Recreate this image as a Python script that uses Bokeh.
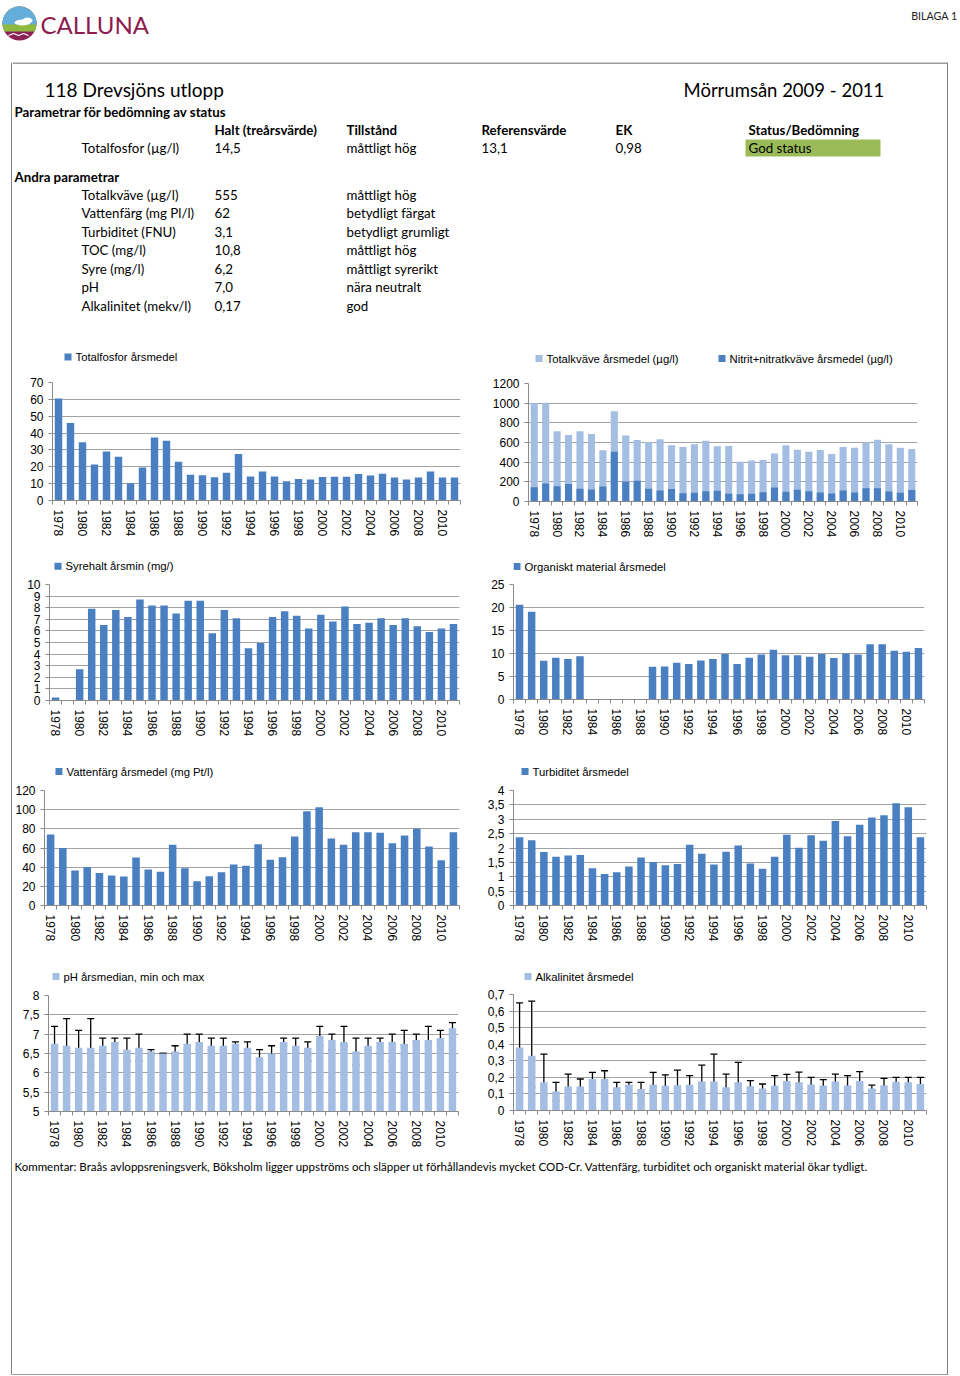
import numpy as np
from bokeh.plotting import figure
from bokeh.models import (Range1d, FixedTicker, CustomJSTickFormatter,
                          ColumnDataSource, Whisker, TeeHead, Spacer)
from bokeh.layouts import column, row
from bokeh.core.properties import value
from bokeh.embed import file_html
from bokeh.resources import INLINE

# ---------------- data ----------------
years = list(range(1978, 2012))

totalfosfor = [60.5, 46, 34.5, 21.3, 29, 26, 10.3, 19.6, 37.3, 35.5, 23, 15.3, 15, 13.8, 16.4,
               27.6, 14.2, 17.2, 14.3, 11.4, 12.7, 12.5, 14, 14.1, 14.1, 15.7, 14.8, 15.8, 13.6,
               12.5, 13.6, 17.2, 13.6, 13.6]
totalkvave = [1000, 1005, 714, 676, 714, 687, 520, 918, 670, 625, 605, 632, 571, 554, 581, 619,
              561, 564, 404, 418, 421, 489, 571, 527, 506, 523, 483, 554, 547, 602, 629, 581, 547, 534]
nitrit = [146, 184, 156, 177, 129, 122, 153, 506, 204, 211, 129, 112, 126, 85, 88, 105, 109, 78,
          75, 78, 95, 143, 99, 119, 105, 92, 82, 112, 92, 136, 136, 102, 88, 116]
syre_min = [0.25, None, 2.7, 7.9, 6.5, 7.8, 7.2, 8.7, 8.2, 8.2, 7.5, 8.6, 8.6, 5.8, 7.8, 7.1, 4.5,
            4.95, 7.2, 7.7, 7.3, 6.2, 7.4, 6.8, 8.1, 6.6, 6.7, 7.1, 6.5, 7.1, 6.4, 5.9, 6.2, 6.6]
organiskt = [20.6, 19.1, 8.4, 9.1, 8.8, 9.4, None, None, None, None, None, 7.1, 7.2, 8.0, 7.7, 8.5,
             8.8, 9.9, 7.7, 9.1, 9.8, 10.8, 9.6, 9.6, 9.3, 9.9, 9.0, 10.0, 9.8, 12.0, 12.0, 10.6,
             10.4, 11.2]
vattenfarg = [74, 60, 36.5, 40, 34, 31.3, 30.3, 50, 37.6, 35.1, 63.3, 39, 25.4, 30.6, 34.8, 42.8,
              41.4, 64, 47.7, 50.4, 72, 98.4, 102.6, 69.9, 63.3, 76.5, 76.5, 75.8, 65, 73, 80, 61.6,
              47.3, 76.5]
turbiditet = [2.37, 2.27, 1.86, 1.70, 1.74, 1.76, 1.30, 1.10, 1.16, 1.36, 1.67, 1.51, 1.40, 1.44,
              2.11, 1.80, 1.43, 1.87, 2.09, 1.46, 1.28, 1.70, 2.46, 2.01, 2.44, 2.25, 2.94, 2.41,
              2.81, 3.06, 3.14, 3.56, 3.42, 2.37]
ph_median = [6.75, 6.7, 6.65, 6.65, 6.7, 6.8, 6.6, 6.65, 6.55, 6.5, 6.55, 6.75, 6.8, 6.7, 6.7, 6.75,
             6.65, 6.4, 6.5, 6.8, 6.7, 6.65, 6.95, 6.85, 6.8, 6.55, 6.7, 6.8, 6.8, 6.75, 6.85, 6.85,
             6.9, 7.15]
ph_min = [6.3, 6.5, 6.4, 6.2, 6.5, 6.4, 6.3, 6.3, 6.5, 6.5, 6.5, 6.6, 6.6, 6.6, 6.6, 6.4, 6.5, 6.3,
          6.2, 6.7, 6.5, 6.3, 6.7, 6.6, 6.7, 6.2, 6.6, 6.5, 6.3, 6.7, 6.8, 6.7, 6.7, 6.6]
ph_max = [7.2, 7.4, 7.1, 7.4, 6.9, 6.9, 6.9, 7.0, 6.6, 6.5, 6.7, 7.0, 7.0, 6.9, 6.9, 6.8, 6.8, 6.6,
          6.7, 6.9, 6.9, 6.8, 7.2, 7.0, 7.2, 6.9, 6.9, 6.9, 7.0, 7.1, 7.0, 7.2, 7.1, 7.3]
alk_mean = [0.38, 0.33, 0.17, 0.115, 0.145, 0.145, 0.19, 0.19, 0.14, 0.155, 0.13, 0.155, 0.15, 0.153,
            0.155, 0.175, 0.175, 0.14, 0.17, 0.147, 0.133, 0.15, 0.178, 0.17, 0.157, 0.151, 0.175,
            0.151, 0.178, 0.133, 0.151, 0.173, 0.17, 0.16]
alk_min = [0.11, 0.14, 0.09, 0.06, 0.08, 0.115, 0.16, 0.14, 0.12, 0.15, 0.09, 0.10, 0.097, 0.117,
           0.109, 0.13, 0.107, 0.087, 0.113, 0.113, 0.113, 0.10, 0.151, 0.133, 0.113, 0.111, 0.137,
           0.113, 0.111, 0.121, 0.113, 0.143, 0.143, 0.131]
alk_max = [0.65, 0.66, 0.34, 0.17, 0.22, 0.19, 0.23, 0.24, 0.17, 0.17, 0.17, 0.23, 0.215, 0.244,
           0.21, 0.274, 0.34, 0.22, 0.29, 0.18, 0.16, 0.21, 0.218, 0.232, 0.2, 0.186, 0.22, 0.21,
           0.234, 0.153, 0.194, 0.2, 0.2, 0.2]

# header table
title_left = "118 Drevsjöns utlopp"
title_right = "Mörrumsån 2009 - 2011"
status_heading = "Parametrar för bedömning av status"
table_header = ["Halt (treårsvärde)", "Tillstånd", "Referensvärde", "EK", "Status/Bedömning"]
tp_row = ["Totalfosfor (µg/l)", "14,5", "måttligt hög", "13,1", "0,98", "God status"]
other_heading = "Andra parametrar"
other_names = ["Totalkväve (µg/l)", "Vattenfärg (mg Pl/l)", "Turbiditet (FNU)", "TOC (mg/l)",
               "Syre (mg/l)", "pH", "Alkalinitet (mekv/l)"]
other_values = ["555", "62", "3,1", "10,8", "6,2", "7,0", "0,17"]
other_states = ["måttligt hög", "betydligt färgat", "betydligt grumligt", "måttligt hög",
                "måttligt syrerikt", "nära neutralt", "god"]
comment = ("Kommentar: Braås avloppsreningsverk, Böksholm ligger uppströms och släpper ut "
           "förhållandevis mycket COD-Cr. Vattenfärg, turbiditet och organiskt material ökar tydligt.")

# ---------------- styles ----------------
DARK = "#4A80C2"
LIGHT = "#A3BEE2"
GRID = "#A2A2A2"
AXISC = "#8A8A8A"
BORDER = "#3a3a3a"
TXT_FONT = "Lato"
AX_FONT = "Liberation Sans"
TBL = "13.3px"
BW = 0.62


def arr(v):
    return np.array([np.nan if x is None else x for x in v], dtype=float)


def plain_fig(w, h, yr, xr=None, bl=0, br=0):
    p = figure(width=w, height=h, x_range=xr if xr is not None else Range1d(0, w), y_range=yr,
               output_backend="svg", toolbar_location=None,
               x_axis_location=None, y_axis_location=None,
               min_border=0, min_border_left=bl, min_border_right=br,
               min_border_top=0, min_border_bottom=0, outline_line_color=None)
    p.grid.visible = False
    return p


def texts(p, xs, ys, labels, size=TBL, bold=False, color="black", align="left", font=TXT_FONT):
    src = ColumnDataSource(dict(x=xs, y=ys, t=labels))
    p.text(x="x", y="y", text="t", source=src, text_font=value(font), text_font_size=size,
           text_font_style="bold" if bold else "normal", text_color=color,
           text_baseline="middle", text_align=align)


def strip(h):
    p = plain_fig(1, h, Range1d(0, 1), Range1d(0, 1))
    p.background_fill_color = BORDER
    p.border_fill_color = BORDER
    p.quad(left=[0], right=[1], bottom=[0], top=[1], fill_color=BORDER, line_color=None)
    return p


fmt = CustomJSTickFormatter(code="return (Math.round(tick*1000)/1000).toString().replace('.', ',');")

TOPGAP = 8  # space kept above each chart frame inside the chart figure


def chart(w, h, bl, br, bt, bb, ylo, yhi, yticks, legends):
    """Returns column(legend strip, chart figure) and the chart figure.
    legends: list of (label, colour, dx from frame left, distance of centre above frame top)."""
    lh = bt - TOPGAP
    p = figure(width=w, height=h - lh, x_range=Range1d(years[0] - 0.5, years[-1] + 0.5),
               y_range=Range1d(ylo, yhi), output_backend="svg", toolbar_location=None,
               min_border_left=bl, min_border_right=br, min_border_top=TOPGAP,
               min_border_bottom=bb, outline_line_color=None)
    p.xgrid.visible = False
    yt = FixedTicker(ticks=yticks)
    p.yaxis.ticker = yt
    p.ygrid.ticker = yt
    p.ygrid.grid_line_color = GRID
    p.ygrid.grid_line_width = 1
    p.xaxis.ticker = FixedTicker(ticks=years[::2],
                                 minor_ticks=[y - 0.5 for y in years] + [years[-1] + 0.5])
    p.xaxis.major_label_orientation = "vertical"
    p.xaxis.major_tick_line_color = None
    p.xaxis.major_tick_out = 0
    p.xaxis.major_tick_in = 0
    p.xaxis.minor_tick_out = 4
    p.xaxis.minor_tick_in = 0
    p.xaxis.minor_tick_line_color = AXISC
    p.xaxis.major_label_standoff = 5
    p.yaxis.minor_tick_line_color = None
    p.yaxis.major_tick_out = 4
    p.yaxis.major_tick_in = 0
    p.yaxis.major_tick_line_color = AXISC
    p.yaxis.major_label_standoff = 5
    p.yaxis.formatter = fmt
    for ax in p.axis:
        ax.axis_line_color = AXISC
        ax.major_label_text_font = AX_FONT
        ax.major_label_text_font_size = "12px"
        ax.major_label_text_color = "black"

    # legend strip: its frame lines up with the chart frame; x measured from frame left
    fw = w - bl - br
    lf = plain_fig(w, lh, Range1d(lh, 0), Range1d(0, fw), bl=bl, br=br)
    for label, colour, dx, d in legends:
        cyl = lh + TOPGAP - d
        lf.quad(left=[dx], right=[dx + 7], top=[cyl - 3.5], bottom=[cyl + 3.5],
                fill_color=colour, line_color=None)
        texts(lf, [dx + 11], [cyl], [label], size="11.3px", font=AX_FONT)
    return column(lf, p), p


def add_whiskers(p, lo, hi):
    src = ColumnDataSource(dict(x=years, lo=lo, hi=hi))
    p.add_layout(Whisker(source=src, base="x", lower="lo", upper="hi", line_color="black",
                         line_width=1.3,
                         upper_head=TeeHead(size=7, line_color="black", line_width=1.3),
                         lower_head=TeeHead(size=7, line_color="black", line_width=1.3)))


# ---------------- logo strip (page coordinates) ----------------
logo = plain_fig(960, 62, Range1d(62, 0))
cx, cy, r = 19, 23, 17


def seg(c):
    a0 = np.arcsin(np.clip(c / r, -1, 1))
    t = np.linspace(a0, np.pi - a0, 40)
    return cx + r * np.cos(t), cy - r * np.sin(t)


logo.circle(x=[cx], y=[cy], radius=r, fill_color="#8B2256", line_color=None)
gx, gy = seg(-8)
logo.patch(gx, gy, fill_color="#8DBA3E", line_color=None)
bx, by = seg(-1)
logo.patch(bx, by, fill_color="#62ADD9", line_color=None)
logo.ellipse(x=[cx + 3, cx + 8], y=[cy - 1, cy - 3], width=[16, 10], height=[6, 6],
             fill_color="white", line_color=None)
logo.line(x=[cx - 11, cx - 6, cx - 1, cx + 4, cx + 9], y=[cy + 12, cy + 10, cy + 12, cy + 10, cy + 12],
          line_color="white", line_width=1.2)
texts(logo, [40], [24], ["CALLUNA"], size="24px", color="#8E1C4F")
texts(logo, [957], [15], ["BILAGA 1"], size="10.7px", color="#222222", align="right")

# ---------------- header (inside border), coords = page - (12, 62) ----------------
hdr = plain_fig(935, 283, Range1d(283, 0))
hdr.quad(left=[0], right=[935], top=[0], bottom=[1], fill_color=BORDER, line_color=None)
hdr.quad(left=[733], right=[868], top=[77], bottom=[94], fill_color="#9BBB59", line_color=None)
texts(hdr, [32], [27], [title_left], size="19px")
texts(hdr, [671], [27], [title_right], size="18.5px")
texts(hdr, [2], [49], [status_heading], bold=True)
col_x = [69, 202, 334, 469, 603, 736]
texts(hdr, col_x[1:], [67] * 5, table_header, bold=True)
texts(hdr, col_x, [85] * 6, tp_row)
texts(hdr, [2], [114], [other_heading], bold=True)
row_y = [132 + 18.5 * i for i in range(len(other_names))]
texts(hdr, [col_x[0]] * len(other_names), row_y, other_names)
texts(hdr, [col_x[1]] * len(other_names), row_y, other_values)
texts(hdr, [col_x[2]] * len(other_names), row_y, other_states)

# ---------------- charts ----------------
# row 1
k1, c1 = chart(468, 203, 40, 20, 37, 48, 0, 70, list(range(0, 71, 10)),
               [("Totalfosfor årsmedel", DARK, 12, 25.5)])
c1.vbar(x=years, top=totalfosfor, width=BW, fill_color=DARK, line_color=None)

k2, c2 = chart(467, 203, 48, 30, 38, 47, 0, 1200, list(range(0, 1201, 200)),
               [("Totalkväve årsmedel (µg/l)", LIGHT, 7, 25),
                ("Nitrit+nitratkväve årsmedel (µg/l)", DARK, 190, 25)])
c2.vbar(x=years, top=totalkvave, width=BW, fill_color=LIGHT, line_color=None)
c2.vbar(x=years, top=nitrit, width=BW, fill_color=DARK, line_color=None)

# row 2
k3, c3 = chart(468, 204, 37, 21, 36, 52, 0, 10, list(range(0, 11)),
               [("Syrehalt årsmin (mg/)", DARK, 5, 18.3)])
c3.vbar(x=years, top=arr(syre_min), width=BW, fill_color=DARK, line_color=None)

k4, c4 = chart(467, 204, 33, 23, 36, 53, 0, 25, list(range(0, 26, 5)),
               [("Organiskt material årsmedel", DARK, 0, 18)])
c4.vbar(x=years, top=arr(organiskt), width=BW, fill_color=DARK, line_color=None)

# row 3
k5, c5 = chart(468, 206, 31, 21, 38, 53, 0, 120, list(range(0, 121, 20)),
               [("Vattenfärg årsmedel (mg Pt/l)", DARK, 11, 19)])
c5.vbar(x=years, top=vattenfarg, width=BW, fill_color=DARK, line_color=None)

k6, c6 = chart(467, 206, 33, 21, 38, 53, 0, 4, [0, 0.5, 1, 1.5, 2, 2.5, 3, 3.5, 4],
               [("Turbiditet årsmedel", DARK, 8, 19)])
c6.vbar(x=years, top=turbiditet, width=BW, fill_color=DARK, line_color=None)

# row 4
k7, c7 = chart(468, 192, 36, 22, 37, 39, 5, 8, [5, 5.5, 6, 6.5, 7, 7.5, 8],
               [("pH årsmedian, min och max", LIGHT, 4, 19)])
c7.vbar(x=years, top=ph_median, bottom=5, width=BW, fill_color=LIGHT, line_color=None)
add_whiskers(c7, ph_min, ph_max)

k8, c8 = chart(467, 192, 33, 21, 36, 40, 0, 0.7, [0, 0.1, 0.2, 0.3, 0.4, 0.5, 0.6, 0.7],
               [("Alkalinitet årsmedel", LIGHT, 11, 18)])
c8.vbar(x=years, top=alk_mean, width=BW, fill_color=LIGHT, line_color=None)
add_whiskers(c8, alk_min, alk_max)

# ---------------- footer, coords = page - (12, 1150) ----------------
ftr = plain_fig(935, 225, Range1d(225, 0))
ftr.quad(left=[0], right=[935], top=[224], bottom=[225], fill_color=BORDER, line_color=None)
texts(ftr, [2], [16], [comment], size="11.5px")

inner = column(hdr, row(k1, k2), row(k3, k4), row(k5, k6), row(k7, k8), ftr)
H = 283 + 203 + 204 + 206 + 192 + 225
layout = column(logo, row(Spacer(width=11, height=H), strip(H), inner, strip(H)))

open("out.html", "w").write(file_html(layout, INLINE))
